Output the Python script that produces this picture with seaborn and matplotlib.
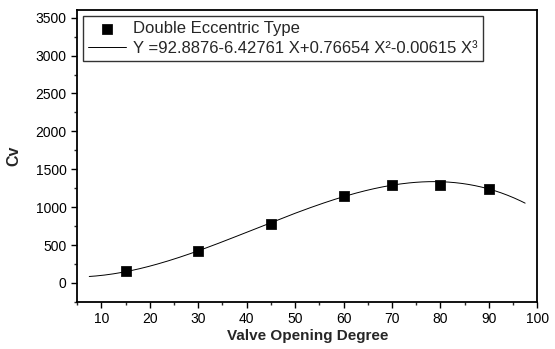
import numpy as np
import pandas as pd
import matplotlib
matplotlib.use("Agg")
import matplotlib.pyplot as plt
import seaborn as sns
from matplotlib.ticker import MultipleLocator

opening = [15, 30, 45, 60, 70, 80, 90]
cv = [160, 420, 780, 1150, 1290, 1290, 1240]

# cubic fit given in the legend
coef = [92.8876, -6.42761, 0.76654, -0.00615]
fit_range = [7.5, 97.5]

sns.set_theme(style="white")
plt.rcParams['font.family'] = ['Liberation Sans', 'DejaVu Sans']

df = pd.DataFrame({"x": opening, "y": cv})
xs = np.linspace(fit_range[0], fit_range[1], 200)
ys = sum(c * xs ** i for i, c in enumerate(coef))
fit_df = pd.DataFrame({"x": xs, "y": ys})

fit_label = "Y =%s%s X+%s X\u00b2%s X\u00b3" % (coef[0], coef[1], coef[2], coef[3])

fig = plt.figure(figsize=(5.55, 3.49), dpi=100)
ax = fig.add_axes([0.139, 0.135, 0.829, 0.836])

sns.scatterplot(data=df, x="x", y="y", marker="s", s=45, color="black",
                edgecolor="black", ax=ax, label="Double Eccentric Type", zorder=3)
sns.lineplot(data=fit_df, x="x", y="y", color="black", linewidth=0.7, ax=ax,
             label=fit_label)

ax.set_xlim(5, 100)
ax.set_ylim(-250, 3600)
ax.xaxis.set_minor_locator(MultipleLocator(5))
ax.yaxis.set_minor_locator(MultipleLocator(250))
ax.set_xticks(range(10, 101, 10))
ax.set_yticks(range(0, 3501, 500))
ax.tick_params(axis="both", which="major", direction="out", length=4, width=1,
               labelsize=10, colors="black", bottom=True, left=True)
ax.tick_params(axis="both", which="minor", direction="out", length=2.5, width=1,
               bottom=True, left=True)
for sp in ax.spines.values():
    sp.set_color("black")
    sp.set_linewidth(1.3)

ax.set_xlabel("Valve Opening Degree", fontsize=11, fontweight="bold", labelpad=2)
ax.set_ylabel("Cv", fontsize=11.5, fontweight="bold", labelpad=10)

leg = ax.legend(loc="upper left", fontsize=12, frameon=True, fancybox=False,
                edgecolor="black", borderaxespad=0.35, handlelength=2.3,
                handletextpad=0.4, borderpad=0.3, labelspacing=0.3)
leg.get_frame().set_linewidth(1.0)

fig.savefig("out.png", dpi=100)
